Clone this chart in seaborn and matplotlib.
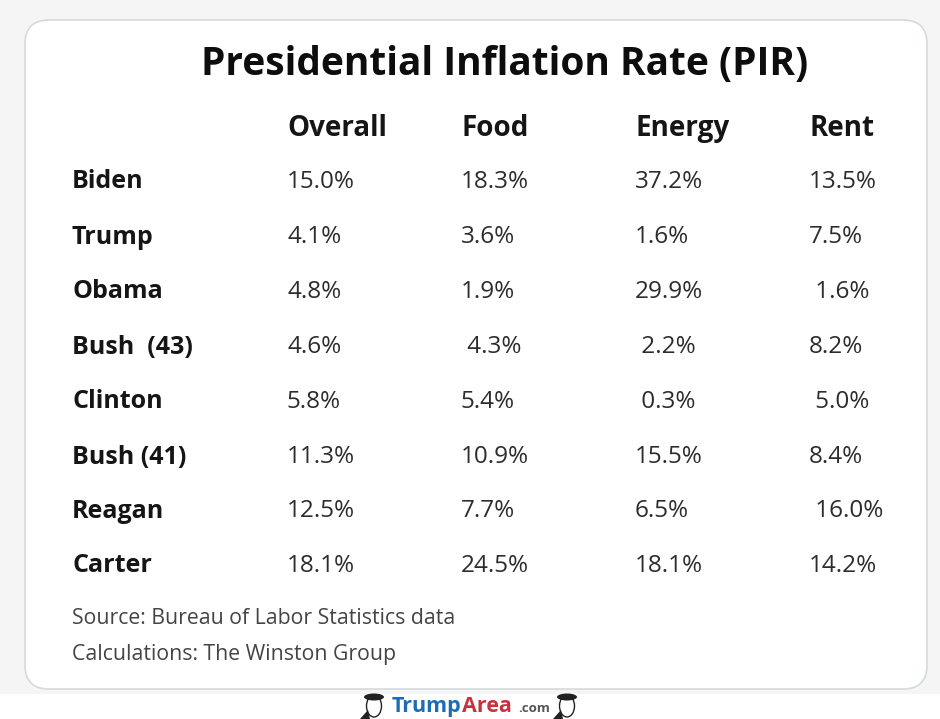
import matplotlib
matplotlib.use("Agg")
import matplotlib.pyplot as plt
from matplotlib.patches import FancyBboxPatch, Ellipse, Polygon
import seaborn as sns
import pandas as pd

sns.set_theme(style="white")
plt.rcParams['font.family'] = ['Open Sans', 'DejaVu Sans']

title = "Presidential Inflation Rate (PIR)"
columns = ["Overall", "Food", "Energy", "Rent"]
presidents = ["Biden", "Trump", "Obama", "Bush  (43)", "Clinton", "Bush (41)", "Reagan", "Carter"]
overall = ["15.0%", "4.1%", "4.8%", "4.6%", "5.8%", "11.3%", "12.5%", "18.1%"]
food = ["18.3%", "3.6%", "1.9%", " 4.3%", "5.4%", "10.9%", "7.7%", "24.5%"]
energy = ["37.2%", "1.6%", "29.9%", " 2.2%", " 0.3%", "15.5%", "6.5%", "18.1%"]
rent = ["13.5%", "7.5%", " 1.6%", "8.2%", " 5.0%", "8.4%", " 16.0%", "14.2%"]
notes = ["Source: Bureau of Labor Statistics data", "Calculations: The Winston Group"]
col_x = [287, 461, 635, 809]
row_y = [179, 234, 289, 344, 399, 454, 508, 563]
note_y = [616, 652]

fig = plt.figure(figsize=(9.40, 7.19), dpi=100, facecolor="#f5f5f6")
ax = fig.add_axes([0, 0, 1, 1])
ax.set_xlim(0, 940); ax.set_ylim(719, 0); ax.axis("off")
ax.add_patch(FancyBboxPatch((25, 20), 902, 669, boxstyle="round,pad=0,rounding_size=24",
    fc="white", ec="#d5dadd", lw=1.2))
ax.add_patch(plt.Rectangle((0, 694), 940, 25, fc="white", ec="none"))
ink = "#151515"
baseline = dict(va="center_baseline")
ax.text(504.5, 60, title, ha="center", fontsize=28, fontweight="bold", color="#0d0d0d", **baseline)
for x, c in zip(col_x, columns):
    ax.text(x, 125, c, fontsize=20, fontweight="bold", color=ink, **baseline)
table = pd.DataFrame({"Overall": overall, "Food": food, "Energy": energy, "Rent": rent}, index=presidents)
for y, p in zip(row_y, presidents):
    ax.text(72, y, p, fontsize=18, fontweight="bold", color=ink, **baseline)
    for x, c in zip(col_x, columns):
        ax.text(x, y, table.loc[p, c], fontsize=17.5, color="#2c2c2c", **baseline)
for y, n in zip(note_y, notes):
    ax.text(72, y, n, fontsize=15.3, color="#444444", **baseline)

ax.text(392, 712, "Trump", va="baseline", fontsize=15.5, fontweight="bold", color="#1c6db3")
ax.text(462, 712, "Area", va="baseline", fontsize=15.5, fontweight="bold", color="#c8323c")
ax.text(518, 712, ".com", va="baseline", fontsize=9.5, fontweight="bold", color="#555555")
for cx in (374, 567):
    ax.add_patch(Ellipse((cx, 706), 15, 22, fc="white", ec="#222222", lw=1))
    ax.add_patch(Ellipse((cx, 697), 20, 7, fc="#222222", ec="none"))
    ax.add_patch(Polygon([(cx - 14, 719), (cx - 6, 710), (cx - 4, 719)], fc="#222222", ec="none"))
fig.savefig("out.png", dpi=100, facecolor=fig.get_facecolor())
